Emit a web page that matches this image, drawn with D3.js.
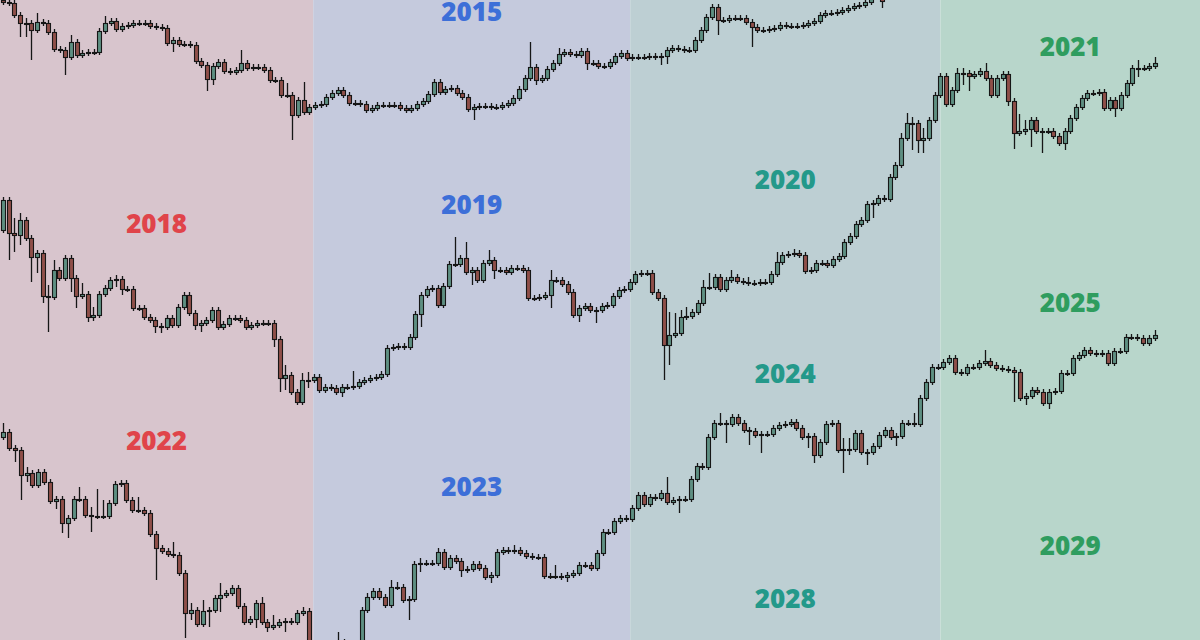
<!DOCTYPE html>
<html><head><meta charset="utf-8">
<script src="https://cdn.jsdelivr.net/npm/d3@7"></script>
<style>html,body{margin:0;padding:0;background:#fff}svg{display:block}</style>
</head><body>
<svg id="chart" width="1200" height="640"></svg>
<script>
// ---------- DATA ----------
// Phase columns (bounds in candle-index units of the top row)
const phaseBounds = [-0.53, 54.7, 110.6, 165.3, 211.1];
const phaseFill = ["#d8c5cd", "#c5cadd", "#bdcfd3", "#b8d6cb"];
const phaseText = ["#e0444a", "#3d6fd8", "#24998a", "#2f9d5f"];

// Year labels: text, phase column, price level of baseline
const labelYears = ["2018","2022","2015","2019","2023","2020","2024","2028","2021","2025","2029"];
const labelPhase = [0, 0, 1, 1, 1, 2, 2, 2, 3, 3, 3];
const labelLevel = [767, 550, 979, 786, 504, 811, 617, 392, 944, 688, 445];

// Row 1 (top cycle)
const row1Open0 = 1000;
const row1Close = [
998,997,985,977,977,970,978,977,968,951,
950,943,958,945,947,948,948,969,977,979,
971,974,975,977,977,977,974,973,972,957,
960,956,956,955,939,935,921,934,938,929,
928,930,937,932,933,933,930,920,920,905,
905,885,900,888,893,895,896,903,907,910,
905,897,897,896,890,892,895,895,895,895,
892,890,892,896,899,906,918,908,911,912,
907,903,891,893,894,894,893,893,895,897,
902,911,922,933,920,922,931,937,946,948,
946,945,949,937,937,934,934,938,944,947,
942,943,943,943,944,943,944,950,952,951,
950,950,960,970,983,993,980,980,982,982,
982,978,973,970,970,971,972,975,974,974,
974,975,977,979,985,987,987,988,990,992,
994,995,998,1004,1005,999];
const row1High = [[4,982],[6,987],[12,965],[18,984],[42,950],[50,917],[53,918],[93,958],[98,952]];
const row1Low = [[3,963],[4,963],[5,940],[11,925],[30,948],[36,909],[37,915],[51,860],[83,880],[94,915],[103,930],[116,935],[117,936],[126,965],[132,953],[155,992]];

// Row 2 (middle cycle)
const row2Open0 = 770;
const row2Close = [
800,767,765,780,762,743,747,704,703,730,
722,742,722,704,706,683,685,706,712,720,
721,711,711,692,692,683,680,674,673,682,
675,693,705,687,675,677,680,690,673,676,
682,682,680,673,675,677,677,677,661,622,
625,608,598,620,620,623,610,613,612,608,
613,613,614,618,620,622,623,626,652,653,
654,653,663,686,705,711,712,695,714,736,
736,742,728,730,720,737,740,730,730,728,
732,732,730,702,702,703,705,720,720,716,
708,685,692,694,690,690,694,695,704,710,
711,718,726,727,727,708,702,655,665,667,
683,684,688,697,713,713,723,711,720,723,
719,718,717,717,718,718,726,738,745,746,
747,745,729,730,737,737,735,741,744,758,
764,776,780,796,797,802,801,823,835,862,
877,877,860,862,880,905,924,896,910,927,
927,924,926,929,922,905,922,926,899,867,
869,871,880,869,869,869,864,857,869,882,
893,902,907,907,908,892,900,892,905,917,
932,932,932,934,937];
const row2High = [[2,782],[3,787],[8,715],[9,740],[14,717],[16,693],[19,723],[20,725],[32,708],[50,635],[53,627],[54,628],[62,629],[80,763],[82,758],[86,750],[97,730],[118,688],[119,687],[120,690],[121,693],[124,720],[125,727],[129,730],[132,723],[137,748],[140,751],[159,867],[160,887],[161,883],[163,872],[169,932],[170,932],[174,937],[180,886],[181,880],[201,940],[204,943]];
const row2Low = [[1,740],[2,748],[3,755],[5,718],[6,727],[7,697],[8,668],[12,708],[13,692],[15,678],[16,679],[20,713],[21,705],[27,667],[28,667],[34,670],[35,668],[48,653],[49,608],[50,610],[54,612],[60,603],[74,673],[83,715],[87,721],[97,692],[102,678],[105,677],[117,620],[118,635],[154,782],[161,850],[162,847],[163,847],[170,915],[171,909],[178,894],[179,851],[181,865],[182,853],[184,847],[188,850],[197,883],[201,923]];

// Row 3 (bottom cycle)
const row3Open0 = 563;
const row3Close = [
568,552,550,525,527,515,528,518,499,501,
477,482,501,501,485,484,484,484,497,516,
517,500,490,490,487,466,452,449,446,445,
427,387,390,376,389,390,402,405,407,412,
394,378,381,397,378,373,375,378,379,378,
387,389,348,352,355,356,357,358,354,350,
352,390,403,409,403,395,413,413,400,401,
436,437,437,437,448,433,442,439,430,431,
436,432,423,425,448,450,449,450,447,444,
443,443,424,424,424,423,425,427,435,435,
432,447,468,468,479,482,481,492,505,496,
503,502,507,498,500,501,501,521,534,533,
563,577,577,576,583,577,570,569,565,566,
566,572,575,576,578,572,563,564,545,558,
576,577,550,551,551,567,548,548,554,565,
570,563,564,577,577,576,602,618,633,633,
638,642,628,627,633,633,637,639,635,632,
631,630,628,602,604,610,608,597,608,609,
627,627,642,645,650,647,646,647,637,649,
649,663,663,662,657,662,665];
const row3High = [[0,577],[4,533],[13,513],[15,493],[16,511],[17,500],[20,520],[23,503],[29,458],[32,397],[34,400],[37,417],[44,403],[46,385],[51,393],[57,368],[62,407],[66,420],[67,418],[71,442],[74,452],[87,455],[94,435],[113,523],[122,587],[143,562],[144,562],[155,587],[167,650],[196,670]];
const row3Low = [[2,538],[3,500],[4,518],[9,491],[10,467],[11,462],[15,468],[26,420],[31,362],[32,380],[35,373],[37,388],[43,372],[45,368],[46,370],[48,368],[69,380],[71,428],[78,423],[83,417],[96,418],[115,487],[123,557],[127,555],[129,547],[137,552],[138,537],[143,527],[144,545],[147,535],[152,554],[172,598],[174,595],[178,591]];

// ---------- DRAW ----------
const W = 1200, H = 640;
const svg = d3.select("#chart");
const y = d3.scaleLinear().domain([360, 1000]).range([H, 0]);
const xTop = d3.scaleLinear().domain([0, 155]).range([3, 882]);

// phase backgrounds
svg.append("g").selectAll("rect")
  .data(d3.range(4))
  .join("rect")
  .attr("x", i => xTop(phaseBounds[i]))
  .attr("y", 0)
  .attr("width", i => xTop(phaseBounds[i + 1]) - xTop(phaseBounds[i]))
  .attr("height", H)
  .attr("fill", i => phaseFill[i]);

// year labels
svg.append("g").selectAll("text")
  .data(labelYears.map((t, k) => ({t, p: labelPhase[k], v: labelLevel[k]})))
  .join("text")
  .attr("x", d => (xTop(phaseBounds[d.p]) + xTop(phaseBounds[d.p + 1])) / 2)
  .attr("y", d => y(d.v))
  .attr("text-anchor", "middle")
  .attr("font-family", "'Open Sans', 'Noto Sans', sans-serif")
  .attr("font-weight", 800)
  .attr("font-size", 26)
  .attr("fill", d => phaseText[d.p])
  .text(d => d.t);

function buildCandles(closes, open0, highs, lows) {
  const hi = new Map(highs), lo = new Map(lows);
  return closes.map((c, i) => {
    const o = i === 0 ? open0 : closes[i - 1];
    const top = Math.max(o, c), bot = Math.min(o, c);
    const h = hi.has(i) ? Math.max(hi.get(i), top) : top + 3;
    const l = lo.has(i) ? Math.min(lo.get(i), bot) : bot - 3;
    return {i, o, c, h, l};
  });
}

function drawRow(candles, xs) {
  const g = svg.append("g");
  const cx = d => Math.round(xs(d.i));
  g.selectAll("line")
    .data(candles)
    .join("line")
    .attr("x1", d => cx(d) + 0.5)
    .attr("x2", d => cx(d) + 0.5)
    .attr("y1", d => Math.round(y(d.h)))
    .attr("y2", d => Math.round(y(d.l)))
    .attr("stroke", "#161616")
    .attr("stroke-width", 1.3);
  g.selectAll("rect")
    .data(candles)
    .join("rect")
    .attr("x", d => cx(d) - 1.5)
    .attr("width", 4)
    .attr("y", d => Math.round(y(Math.max(d.o, d.c))) + 0.5)
    .attr("height", d => Math.max(1, Math.round(Math.abs(y(d.o) - y(d.c)))))
    .attr("fill", d => d.c >= d.o ? "#5e8f82" : "#8f4f49")
    .attr("stroke", "#161616")
    .attr("stroke-width", 1.1);
}

drawRow(buildCandles(row1Close, row1Open0, row1High, row1Low), xTop);
drawRow(buildCandles(row2Close, row2Open0, row2High, row2Low),
        d3.scaleLinear().domain([0, row2Close.length - 1]).range([3, 1155]));
drawRow(buildCandles(row3Close, row3Open0, row3High, row3Low),
        d3.scaleLinear().domain([0, row3Close.length - 1]).range([3, 1155]));
</script>
</body></html>
